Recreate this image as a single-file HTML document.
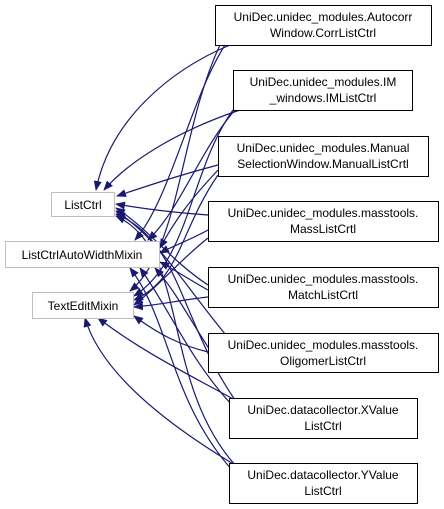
<!DOCTYPE html>
<html><head><style>
html,body{margin:0;padding:0;background:#fff;}
svg{display:block;}
text{font-family:"Liberation Sans",sans-serif;font-size:12px;fill:#000;}
</style></head><body>
<svg width="444" height="509" viewBox="0 0 444 509" xmlns="http://www.w3.org/2000/svg">
<defs>
<marker id="a" markerWidth="10" markerHeight="8" refX="9" refY="4" orient="auto" markerUnits="userSpaceOnUse">
<path d="M0,0 L10,4 L0,8 z" fill="#191970"/>
</marker>
</defs>
<g fill="none" stroke="#191970" stroke-width="1.2" marker-end="url(#a)">
<!-- to ListCtrl -->
<path d="M230,45 C170,70 110,120 96,190"/>
<path d="M240,110 C180,130 130,160 104,190"/>
<path d="M218,165 C180,175 150,185 117,196"/>
<path d="M208,215 C180,213 150,210 116,204"/>
<path d="M208,285 C170,260 150,230 116,208"/>
<path d="M230,340 C180,280 160,240 116,211"/>
<path d="M235,400 C180,320 180,240 116,214"/>
<path d="M235,465 C160,380 190,250 116,216"/>
<!-- to ListCtrlAutoWidthMixin -->
<path d="M225,45 C190,100 170,200 135,240"/>
<path d="M235,110 C200,150 180,210 148,240"/>
<path d="M218,170 C190,200 175,220 160,248"/>
<path d="M208,230 C190,240 175,245 160,253"/>
<path d="M208,290 C190,280 175,270 160,262"/>
<path d="M210,350 C190,320 175,290 155,268"/>
<path d="M232,405 C190,360 170,310 140,268"/>
<path d="M232,470 C170,400 170,320 130,268"/>
<!-- to TextEditMixin -->
<path d="M220,45 C180,130 180,250 130,291"/>
<path d="M233,110 C190,170 190,260 134,296"/>
<path d="M218,175 C180,230 180,280 134,300"/>
<path d="M208,238 C180,260 160,285 134,305"/>
<path d="M208,297 C180,300 160,305 134,307"/>
<path d="M208,352 C180,345 160,335 134,316"/>
<path d="M235,400 C180,370 140,350 98,318"/>
<path d="M235,465 C160,420 100,370 85,318"/>
</g>
<g fill="#fff" stroke="#bfbfbf" stroke-width="1">
<rect x="51.5" y="192.5" width="63" height="24"/>
<rect x="5.5" y="241.5" width="154" height="26"/>
<rect x="32.5" y="292.5" width="101" height="26"/>
</g>
<g fill="#fff" stroke="#000" stroke-width="1">
<rect x="215.5" y="5.5" width="216" height="40"/>
<rect x="233.5" y="70.5" width="179" height="40"/>
<rect x="218.5" y="136.5" width="210" height="40"/>
<rect x="208.5" y="201.5" width="230" height="40"/>
<rect x="208.5" y="267.5" width="230" height="40"/>
<rect x="208.5" y="333.5" width="230" height="39"/>
<rect x="229.5" y="398.5" width="188" height="40"/>
<rect x="229.5" y="463.5" width="188" height="40"/>
</g>
<g text-anchor="middle">
<text x="83" y="209">ListCtrl</text>
<text x="82" y="259">ListCtrlAutoWidthMixin</text>
<text x="83" y="310">TextEditMixin</text>
<text x="323" y="21">UniDec.unidec_modules.Autocorr</text>
<text x="323" y="37">Window.CorrListCtrl</text>
<text x="323" y="86">UniDec.unidec_modules.IM</text>
<text x="323" y="102">_windows.IMListCtrl</text>
<text x="323" y="152">UniDec.unidec_modules.Manual</text>
<text x="323" y="168">SelectionWindow.ManualListCrtl</text>
<text x="323" y="217">UniDec.unidec_modules.masstools.</text>
<text x="323" y="233">MassListCrtl</text>
<text x="323" y="283">UniDec.unidec_modules.masstools.</text>
<text x="323" y="299">MatchListCrtl</text>
<text x="323" y="349">UniDec.unidec_modules.masstools.</text>
<text x="323" y="365">OligomerListCtrl</text>
<text x="323" y="414">UniDec.datacollector.XValue</text>
<text x="323" y="430">ListCtrl</text>
<text x="323" y="479">UniDec.datacollector.YValue</text>
<text x="323" y="495">ListCtrl</text>
</g>
</svg>
</body></html>
